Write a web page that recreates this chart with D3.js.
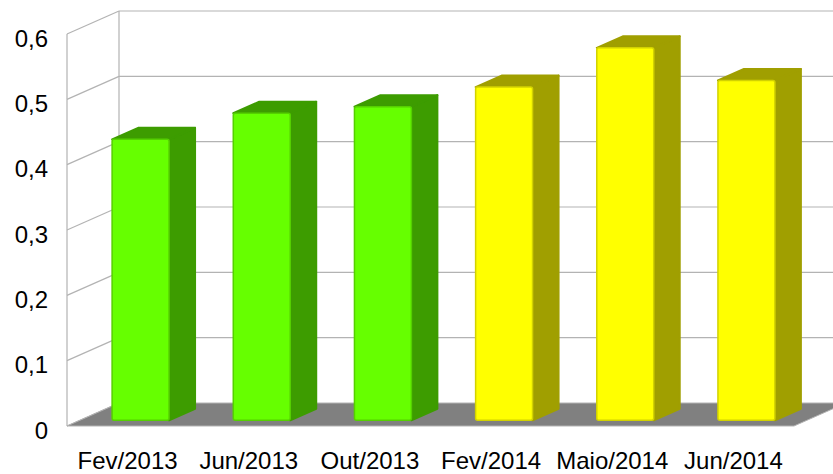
<!DOCTYPE html>
<html>
<head>
<meta charset="utf-8">
<script src="https://cdn.jsdelivr.net/npm/d3@7"></script>
<style>
  html, body { margin: 0; padding: 0; background: #fff; }
  svg { display: block; font-family: "Liberation Sans", Arial, sans-serif; }
</style>
</head>
<body>
<svg id="chart" width="833" height="474"></svg>
<script>
// ---- data ----
const categories = ["Fev/2013", "Jun/2013", "Out/2013", "Fev/2014", "Maio/2014", "Jun/2014"];
const values = [0.43, 0.47, 0.48, 0.51, 0.57, 0.52];
const tickValues = [0, 0.1, 0.2, 0.3, 0.4, 0.5, 0.6];
const tickLabels = ["0", "0,1", "0,2", "0,3", "0,4", "0,5", "0,6"];

// ---- layout ----
const svg = d3.select("#chart");
const DX = 52, DY = -23;          // depth vector of the 3D box
const f0 = 0.25, f1 = 0.75;       // bar front / back depth fractions

const x = d3.scaleBand().domain(categories).range([67, 794])
  .paddingInner(0.53).paddingOuter(0.265);
const y = d3.scaleLinear().domain([0, 0.6]).range([426, 34]);

const palette = {
  "2013": { front: "#66ff00", side: "#3d9c00", edge: "#55d000" },
  "2014": { front: "#ffff00", side: "#a09f00", edge: "#d2d200" }
};
const colorOf = c => palette[c.split("/")[1]];

const grid = "#b3b3b3";
const xL = x.range()[0], xR = x.range()[1];
const yTop = y(0.6), y0 = y(0);

// walls & grid
const g = svg.append("g");
tickValues.forEach(v => {
  if (v > 0) {
    g.append("line").attr("x1", xL + DX).attr("x2", xR + DX)
      .attr("y1", y(v) + DY).attr("y2", y(v) + DY)
      .attr("stroke", grid).attr("stroke-width", 1.2);
  }
  g.append("line").attr("x1", xL).attr("x2", xL + DX)
    .attr("y1", y(v)).attr("y2", y(v) + DY)
    .attr("stroke", grid).attr("stroke-width", 1.2);
});
g.append("line").attr("x1", xL).attr("x2", xL).attr("y1", yTop).attr("y2", y0)
  .attr("stroke", grid).attr("stroke-width", 1.2);
g.append("line").attr("x1", xL + DX).attr("x2", xL + DX).attr("y1", yTop + DY).attr("y2", y0 + DY)
  .attr("stroke", grid).attr("stroke-width", 1.2);

// floor
g.append("polygon")
  .attr("points", [[xL, y0], [xR, y0], [xR + DX, y0 + DY], [xL + DX, y0 + DY]].map(p => p.join(",")).join(" "))
  .attr("fill", "#808080").attr("stroke", grid).attr("stroke-width", 1);

// bars
const bw = x.bandwidth();
const bdx = (f1 - f0) * DX, bdy = (f1 - f0) * DY;
const bars = svg.append("g").selectAll("g.bar").data(categories).join("g").attr("class", "bar");
bars.each(function (c, i) {
  const col = colorOf(c);
  const bx = x(c) + f0 * DX;
  const yt = y(values[i]) + f0 * DY;
  const yb = y(0) + f0 * DY;
  const sel = d3.select(this);
  sel.append("polygon")
    .attr("points", [[bx + bw, yt], [bx + bw + bdx, yt + bdy], [bx + bw + bdx, yb + bdy], [bx + bw, yb]]
      .map(p => p.join(",")).join(" "))
    .attr("fill", col.side).attr("stroke", col.side).attr("stroke-width", 2).attr("stroke-linejoin", "round");
  sel.append("polygon")
    .attr("points", [[bx, yt], [bx + bdx, yt + bdy], [bx + bw + bdx, yt + bdy], [bx + bw, yt]]
      .map(p => p.join(",")).join(" "))
    .attr("fill", col.side).attr("stroke", col.side).attr("stroke-width", 2).attr("stroke-linejoin", "round");
  sel.append("rect")
    .attr("x", bx).attr("y", yt).attr("width", bw).attr("height", yb - yt)
    .attr("rx", 2)
    .attr("fill", col.front).attr("stroke", col.edge).attr("stroke-width", 1.5);
});

// axes
const yAxis = svg.append("g").attr("transform", `translate(${xL},0)`)
  .call(d3.axisLeft(y).tickValues(tickValues).tickFormat((d, i) => tickLabels[i]).tickSize(0).tickPadding(19));
yAxis.select(".domain").remove();
yAxis.selectAll("text").attr("font-size", 24).attr("font-family", "Liberation Sans, Arial, sans-serif")
  .attr("fill", "#000").attr("dy", "0.5em");

const xAxis = svg.append("g").attr("transform", `translate(0,${y0})`)
  .call(d3.axisBottom(x).tickSize(0).tickPadding(26));
xAxis.select(".domain").remove();
xAxis.selectAll("text").attr("font-size", 24).attr("font-family", "Liberation Sans, Arial, sans-serif")
  .attr("fill", "#000");
</script>
</body>
</html>
